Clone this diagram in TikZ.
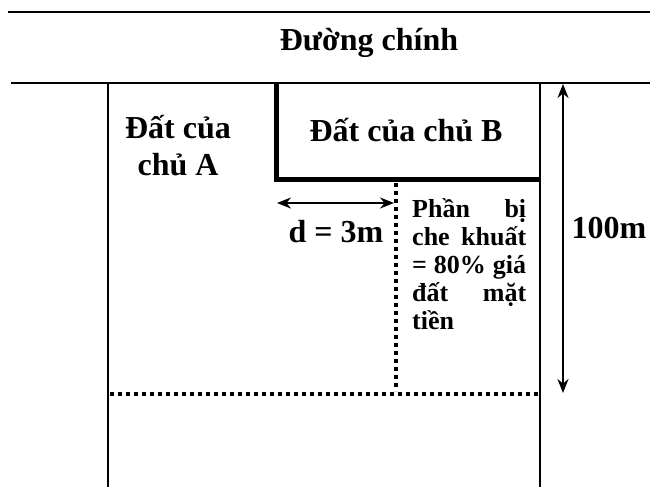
\documentclass[tikz,border=0pt]{standalone}
\usepackage{fontspec}
\setmainfont{Liberation Serif}
\usetikzlibrary{arrows.meta}

\newcommand{\fullline}[1]{\makebox[114pt][s]{#1}}

\begin{document}
\begin{tikzpicture}[x=1pt, y=-1pt,
  every node/.style={font=\bfseries\fontsize{32}{37}\selectfont, inner sep=0pt},
  road/.style={line width=2.5pt},
  lot/.style={line width=2pt},
  frontage/.style={line width=5pt},
  dots/.style={line width=4pt, dash pattern=on 4pt off 4pt},
  dim/.style={line width=2pt, {Stealth[length=14pt,width=11pt]}-{Stealth[length=14pt,width=11pt]}}]
\useasboundingbox (0,0) rectangle (650,487);
% the main road
\draw[road] (8,12) -- (650,12);
\draw[road] (11,83) -- (650,83);
\node (road) at (369,43) {Đường chính};
% lots
\draw[lot] (108,83) -- (108,487);
\draw[lot] (540,83) -- (540,487);
\draw[frontage] (276,83) -- (276,179) -- (540,179);
\node[align=center] (lotA) at (178,146) {Đất của\\chủ A};
\node (lotB) at (406,130) {Đất của chủ B};
% hidden part
\draw[dots] (396,183) -- (396,391);
\draw[dots] (110,394) -- (538,394);
\coordinate (dl) at (277,203);
\coordinate (dr) at (394,203);
\draw[dim] (dl) -- (dr);
\node (d) at (336,232) {d = 3m};
\node[anchor=base west, text width=114pt, align=left,
  font=\bfseries\fontsize{26}{28}\selectfont] (hidden) at (412,217)
  {\fullline{Phần\hfill bị}\\ \fullline{che\hfill khuất}\\ \fullline{=\hfill 80\%\hfill giá}\\
   \fullline{đất\hfill mặt}\\ tiền};
% depth
\coordinate (top) at (563,84);
\coordinate (bot) at (563,393);
\draw[dim] (top) -- (bot);
\node (depth) at (609,228) {100m};
\end{tikzpicture}
\end{document}
